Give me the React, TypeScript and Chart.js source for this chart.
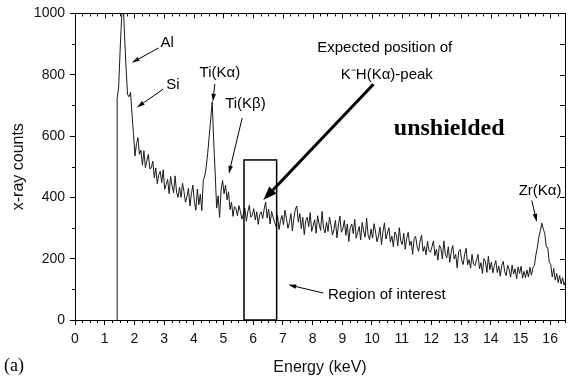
import React, { useEffect, useRef } from "react";
import { Chart, registerables } from "chart.js";

Chart.register(...registerables);

// ---- data ----
const EDGE_ENERGY = 1.42; // keV, detector threshold (spectrum starts here)
const START_ENERGY = 1.42; // keV of first channel below
const ENERGY_STEP = 0.05; // keV per channel
const counts = [
  722, 760, 880, 985, 1040, 925, 820, 735, 728, 742,
  670, 605, 535, 575, 595, 540, 554, 505, 552, 497,
  519, 540, 493, 496, 518, 464, 496, 445, 474, 485,
  448, 490, 426, 442, 459, 412, 468, 438, 415, 470,
  417, 400, 433, 400, 446, 418, 384, 402, 430, 372,
  412, 440, 386, 358, 427, 376, 410, 357, 455, 470,
  500, 545, 600, 655, 712, 585, 480, 365, 405, 335,
  425, 455, 412, 440, 392, 418, 360, 385, 338, 370,
  363, 340, 373, 354, 329, 346, 365, 322, 353, 374,
  335, 342, 363, 326, 353, 312, 344, 353, 331, 362,
  385, 333, 362, 313, 354, 336, 319, 305, 342, 295,
  324, 341, 311, 358, 331, 299, 318, 347, 290, 332,
  361, 372, 319, 347, 298, 335, 278, 324, 335, 304,
  350, 289, 308, 327, 283, 340, 313, 292, 354, 299,
  284, 319, 289, 336, 309, 277, 296, 325, 268, 310,
  339, 286, 297, 325, 276, 313, 256, 302, 313, 282,
  328, 267, 286, 305, 261, 318, 291, 270, 332, 277,
  262, 297, 267, 314, 287, 255, 274, 303, 246, 288,
  317, 264, 283, 301, 254, 274, 239, 287, 278, 242,
  301, 258, 246, 283, 231, 266, 286, 243, 257, 214,
  266, 273, 240, 224, 257, 277, 224, 240, 213, 257,
  226, 221, 239, 258, 210, 231, 195, 244, 234, 199,
  258, 214, 203, 239, 188, 222, 243, 199, 214, 170,
  223, 230, 196, 181, 213, 234, 180, 197, 169, 214,
  182, 177, 196, 214, 167, 187, 152, 200, 191, 155,
  208, 164, 189, 154, 177, 194, 155, 176, 143, 178,
  191, 158, 145, 178, 165, 140, 179, 150, 167, 134,
  173, 152, 175, 136, 159, 138, 163, 140, 172, 146,
  170, 178, 212, 238, 270, 292, 316, 296, 282, 238,
  236, 188, 182, 140, 168, 130, 152, 122, 145, 118,
  138, 114, 128,
];

const X_MIN = 0;
const X_MAX = 16.5;
const X_MAJOR = 1;
const X_MINOR = 0.25;
const Y_MIN = 0;
const Y_MAX = 1000;
const Y_MAJOR = 200;
const Y_MINOR = 100;

const xLabel = "Energy (keV)";
const yLabel = "x-ray counts";

// region of interest box (keV / counts)
const ROI_START = 5.69;
const ROI_END = 6.79;
const ROI_TOP = 522;

// annotations
const labelTexts = ["Al", "Si", "Ti(Kα)", "Ti(Kβ)", "Expected position of", "K⁻H(Kα)-peak", "Region of interest", "Zr(Kα)"];
const labelEnergies = [3.1, 3.3, 4.88, 5.74, 10.43, 10.5, 8.52, 15.66];
const labelCounts = [903, 767, 806, 705, 889, 799, 83, 420];
const labelAlign = ["center", "center", "center", "center", "center", "center", "left", "center"];

// thin arrows: from (e1,c1) to (e2,c2)
const arrowFromE = [2.81, 2.97, 4.71, 5.63, 8.36, 15.38];
const arrowFromC = [887, 753, 770, 659, 88, 390];
const arrowToE = [1.91, 2.08, 4.64, 5.18, 7.18, 15.55];
const arrowToC = [839, 693, 712, 477, 115, 320];

// thick arrow
const bigArrowFrom = [10.05, 769];
const bigArrowTo = [6.34, 391];

const FONT = "'Liberation Sans', Arial, Helvetica, sans-serif";
const SERIF = "'Liberation Serif', 'Times New Roman', serif";

function drawArrow(ctx: CanvasRenderingContext2D, x1: number, y1: number, x2: number, y2: number, lw: number, hl: number, hw: number) {
  const ang = Math.atan2(y2 - y1, x2 - x1);
  const bx = x2 - hl * Math.cos(ang);
  const by = y2 - hl * Math.sin(ang);
  ctx.lineWidth = lw;
  ctx.beginPath();
  ctx.moveTo(x1, y1);
  ctx.lineTo(bx, by);
  ctx.stroke();
  ctx.beginPath();
  ctx.moveTo(x2, y2);
  ctx.lineTo(bx + (hw / 2) * Math.sin(ang), by - (hw / 2) * Math.cos(ang));
  ctx.lineTo(bx - (hw / 2) * Math.sin(ang), by + (hw / 2) * Math.cos(ang));
  ctx.closePath();
  ctx.fill();
}

const decorPlugin = {
  id: "decor",
  afterDatasetsDraw(chart: any) {
    const { ctx, chartArea: ca, scales } = chart;
    const xs = scales.x;
    const ys = scales.y;
    const px = (v: number) => xs.getPixelForValue(v);
    const py = (v: number) => ys.getPixelForValue(v);
    ctx.save();
    ctx.strokeStyle = "#000";
    ctx.fillStyle = "#000";
    ctx.lineWidth = 1;
    // frame
    ctx.strokeRect(Math.round(ca.left) + 0.5, Math.round(ca.top) + 0.5, Math.round(ca.right - ca.left), Math.round(ca.bottom - ca.top));

    // minor / mirrored ticks
    ctx.beginPath();
    const nX = Math.round((X_MAX - X_MIN) / X_MINOR);
    for (let i = 0; i <= nX; i++) {
      const v = X_MIN + i * X_MINOR;
      const isMajor = Math.abs(v / X_MAJOR - Math.round(v / X_MAJOR)) < 1e-6;
      const x = Math.round(px(v)) + 0.5;
      const len = isMajor ? 5 : 3;
      if (!isMajor) {
        ctx.moveTo(x, ca.bottom);
        ctx.lineTo(x, ca.bottom + len);
      }
      ctx.moveTo(x, ca.top);
      ctx.lineTo(x, ca.top + len);
    }
    const nY = Math.round((Y_MAX - Y_MIN) / Y_MINOR);
    for (let i = 0; i <= nY; i++) {
      const v = Y_MIN + i * Y_MINOR;
      const isMajor = Math.abs(v / Y_MAJOR - Math.round(v / Y_MAJOR)) < 1e-6;
      const y = Math.round(py(v)) + 0.5;
      if (!isMajor) {
        ctx.moveTo(ca.left, y);
        ctx.lineTo(ca.left - 3, y);
      }
      ctx.moveTo(ca.right, y);
      ctx.lineTo(ca.right - 5, y);
    }
    ctx.stroke();

    // ROI rectangle
    ctx.lineWidth = 1.5;
    ctx.strokeRect(px(ROI_START), py(ROI_TOP), px(ROI_END) - px(ROI_START), py(0) - py(ROI_TOP));

    // thin arrows
    for (let i = 0; i < arrowFromE.length; i++) {
      drawArrow(ctx, px(arrowFromE[i]), py(arrowFromC[i]), px(arrowToE[i]), py(arrowToC[i]), 1, 8, 4.5);
    }
    // thick arrow
    drawArrow(ctx, px(bigArrowFrom[0]), py(bigArrowFrom[1]), px(bigArrowTo[0]), py(bigArrowTo[1]), 3, 14, 10);

    // labels
    ctx.font = `15px ${FONT}`;
    ctx.textBaseline = "middle";
    for (let i = 0; i < labelTexts.length; i++) {
      ctx.textAlign = labelAlign[i] as CanvasTextAlign;
      ctx.fillText(labelTexts[i], px(labelEnergies[i]), py(labelCounts[i]));
    }
    // "unshielded"
    ctx.font = `bold 24px ${SERIF}`;
    ctx.textAlign = "center";
    ctx.fillText("unshielded", px(12.6), py(624));
    // panel letter
    ctx.font = `18px ${SERIF}`;
    ctx.textAlign = "left";
    ctx.fillText("(a)", 4, 366);
    ctx.restore();
  },
};

export default function App() {
  const ref = useRef<HTMLCanvasElement | null>(null);
  useEffect(() => {
    document.body.style.margin = "0";
    const data = [{ x: EDGE_ENERGY, y: 0 }, ...counts.map((c, i) => ({ x: START_ENERGY + i * ENERGY_STEP, y: c }))];
    const chart = new Chart(ref.current as HTMLCanvasElement, {
      type: "line",
      data: {
        datasets: [
          {
            data,
            borderColor: "#1a1a1a",
            borderWidth: 1,
            pointRadius: 0,
            tension: 0,
            fill: false,
          },
        ],
      },
      options: {
        animation: false,
        responsive: true,
        maintainAspectRatio: false,
        layout: { padding: { top: 12, right: 5, left: 0, bottom: 0 } },
        plugins: { legend: { display: false }, tooltip: { enabled: false } },
        scales: {
          x: {
            type: "linear",
            min: X_MIN,
            max: X_MAX,
            afterFit: (s: any) => {
              s.height = 61;
            },
            ticks: {
              stepSize: X_MAJOR,
              includeBounds: false,
              color: "#111",
              padding: 6,
              font: { family: FONT, size: 14 },
              maxRotation: 0,
              autoSkip: false,
              callback: (v: any) => String(v),
            },
            grid: { display: true, drawOnChartArea: false, tickLength: 5, color: "#000" },
            border: { display: true, color: "#000", width: 1 },
            title: { display: true, text: xLabel, color: "#111", font: { family: FONT, size: 16 }, padding: { top: 0, bottom: 4 } },
          },
          y: {
            type: "linear",
            min: Y_MIN,
            max: Y_MAX,
            afterFit: (s: any) => {
              s.width = 75;
            },
            ticks: {
              stepSize: Y_MAJOR,
              color: "#111",
              padding: 5,
              font: { family: FONT, size: 14 },
              callback: (v: any) => String(v),
            },
            grid: { display: true, drawOnChartArea: false, tickLength: 5, color: "#000" },
            border: { display: true, color: "#000", width: 1 },
            title: { display: true, text: yLabel, color: "#111", font: { family: FONT, size: 16 }, padding: { top: 9, bottom: 0 } },
          },
        },
      },
      plugins: [decorPlugin],
    } as any);
    return () => chart.destroy();
  }, []);
  return (
    <div style={{ position: "fixed", left: 0, top: 0, width: 570, height: 381 }}>
      <canvas ref={ref} />
    </div>
  );
}
